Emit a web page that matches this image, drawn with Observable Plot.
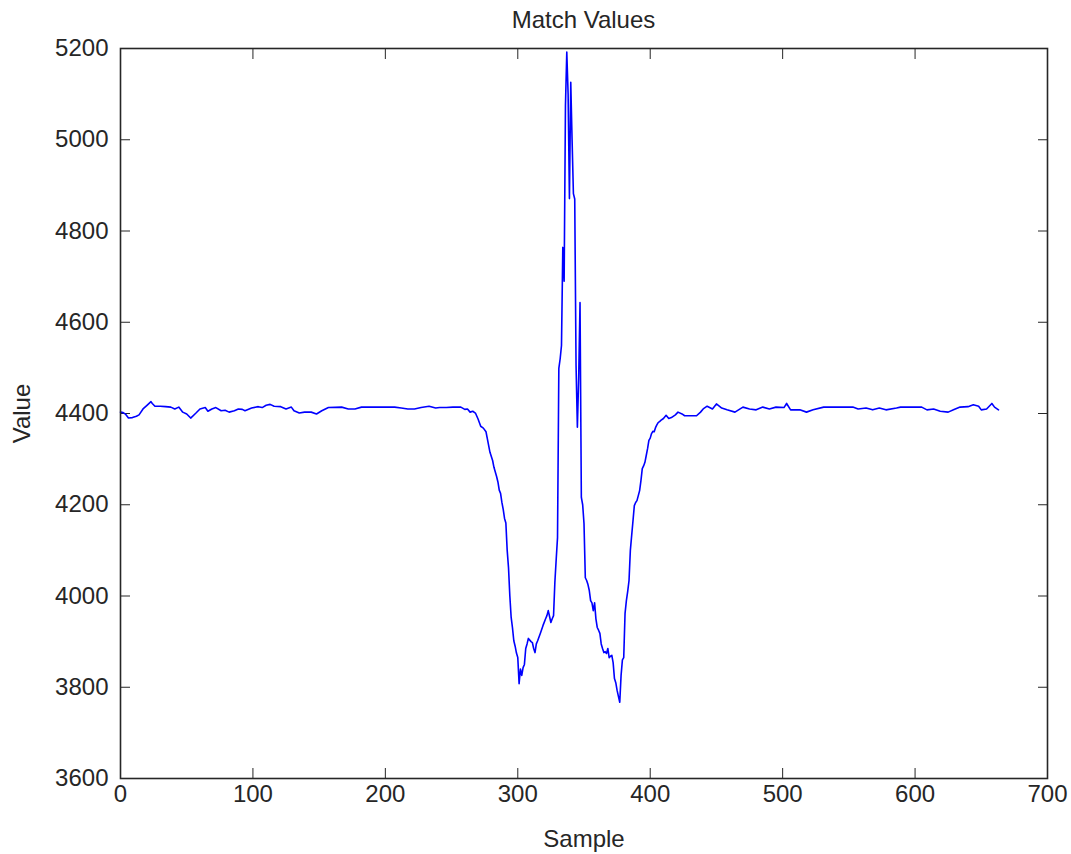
<!DOCTYPE html>
<html>
<head>
<meta charset="utf-8">
<script src="https://cdn.jsdelivr.net/npm/d3@7"></script>
<script src="https://cdn.jsdelivr.net/npm/@observablehq/plot@0.6"></script>
<style>
  html, body { margin: 0; padding: 0; background: #fff; }
  #title { width: 1071px; box-sizing: border-box; padding-left: 120px; padding-right: 24px; height: 36px; line-height: 40px; text-align: center; font-family: "Liberation Sans", Arial, sans-serif; font-size: 24px; color: #262626; }
</style>
</head>
<body>
<div id="title">Match Values</div>
<div id="chart"></div>
<script>
const samples = [0,2,4,6,9,12,14,17,20,23,24,26,30,34,38,41,44,47,50,53,57,60,64,66,69,72,76,79,82,86,89,92,94,99,104,107,110,113,116,121,125,129,131,135,139,144,148,152,157,167,172,177,182,207,212,217,222,227,233,238,241,246,251,257,260,262,264,266,268,
270,272,274,276,277,279,281,282,284,285,286,287,288,289,290,291,292,293,294,295,296,297,298,299,300,301,302,303,304,305,306,307,308,310,311,312,313,314,315,317,319,321,322,323,324,325,326,327,328,329,330,
331,332,333,334,335,336,337,338,339,340,341,342,343,344,345,346,347,348,349,350,351,352,353,354,355,356,357,358,359,360,361,362,363,364,365,366,367,368,369,370,371,372,373,374,375,376,377,378,379,380,
381,382,383,384,385,386,387,388,389,390,391,392,393,394,395,396,397,398,399,400,401,402,403,404,405,406,407,408,410,412,414,416,419,421,424,426,430,435,438,440,443,447,450,454,458,464,470,475,480,485,490,495,501,503,506,513,518,523,531,553,557,563,568,573,578,586,589,605,609,614,619,625,629,634,640,644,648,650,654,658,660,663];
const values = [4403,4402,4398,4390,4391,4394,4397,4410,4418,4426,4422,4416,4416,4415,4414,4410,4414,4403,4399,4390,4401,4410,4413,4405,4410,4413,4406,4407,4403,4406,4410,4409,4406,4412,4415,4413,4418,4420,4416,4415,4410,4414,4406,4401,4403,4403,4399,4406,4413,4414,4410,4410,4414,4414,4412,4410,4410,4413,4416,4412,4413,4413,4414,4414,4409,4410,4403,4405,4401,
4388,4372,4368,4360,4345,4315,4297,4282,4262,4250,4232,4225,4205,4190,4170,4160,4100,4062,4000,3953,3930,3902,3890,3875,3865,3808,3840,3826,3843,3850,3885,3895,3907,3900,3898,3885,3876,3895,3902,3918,3935,3950,3957,3968,3955,3942,3950,3957,4030,4080,4128,
4499,4520,4549,4764,4690,5075,5192,5101,4871,5126,5000,4882,4870,4505,4370,4480,4643,4216,4200,4159,4040,4034,4025,4012,3990,3985,3968,3985,3950,3931,3925,3918,3895,3885,3876,3878,3874,3885,3865,3868,3870,3854,3819,3810,3793,3780,3767,3826,3860,3865,
3962,3990,4010,4034,4100,4133,4165,4198,4205,4209,4220,4231,4253,4279,4285,4293,4308,4323,4341,4346,4356,4361,4360,4369,4375,4380,4382,4385,4389,4396,4389,4391,4397,4403,4399,4395,4395,4395,4403,4410,4416,4410,4421,4412,4408,4403,4414,4410,4408,4414,4410,4414,4413,4422,4408,4408,4403,4408,4414,4414,4410,4412,4408,4412,4408,4412,4414,4414,4408,4410,4405,4403,4408,4414,4415,4419,4416,4408,4410,4422,4414,4408];
const xTicks = [0,100,200,300,400,500,600,700];
const yTicks = [3600,3800,4000,4200,4400,4600,4800,5000,5200];

const data = samples.map((s, i) => ({sample: s, value: values[i]}));
const ink = "#262626";
const plain = d => String(d);

const chart = Plot.plot({
  width: 1071,
  height: 818,
  marginLeft: 120,
  marginRight: 24,
  marginTop: 12,
  marginBottom: 76,
  style: {fontFamily: "'Liberation Sans', Arial, sans-serif", fontSize: "24px", color: ink, background: "#fff", overflow: "visible"},
  x: {domain: [0, 700]},
  y: {domain: [3600, 5200]},
  marks: [
    Plot.axisX(xTicks, {anchor: "bottom", tickSize: -10, tickPadding: 16, stroke: ink, tickFormat: plain, label: "Sample", labelAnchor: "center", labelArrow: "none", labelOffset: 68}),
    Plot.axisX(xTicks, {anchor: "top", tickSize: -10, stroke: ink, tickFormat: () => "", label: null}),
    Plot.axisY(yTicks, {anchor: "left", tickSize: -10, tickPadding: 22, stroke: ink, tickFormat: plain, label: "Value", labelAnchor: "center", labelArrow: "none", labelOffset: 108}),
    Plot.axisY(yTicks, {anchor: "right", tickSize: -10, stroke: ink, tickFormat: () => "", label: null}),
    Plot.line(data, {x: "sample", y: "value", stroke: "#0000ff", strokeWidth: 1.6}),
    Plot.frame({stroke: ink, strokeWidth: 1.6})
  ]
});
document.getElementById("chart").appendChild(chart);
</script>
</body>
</html>
